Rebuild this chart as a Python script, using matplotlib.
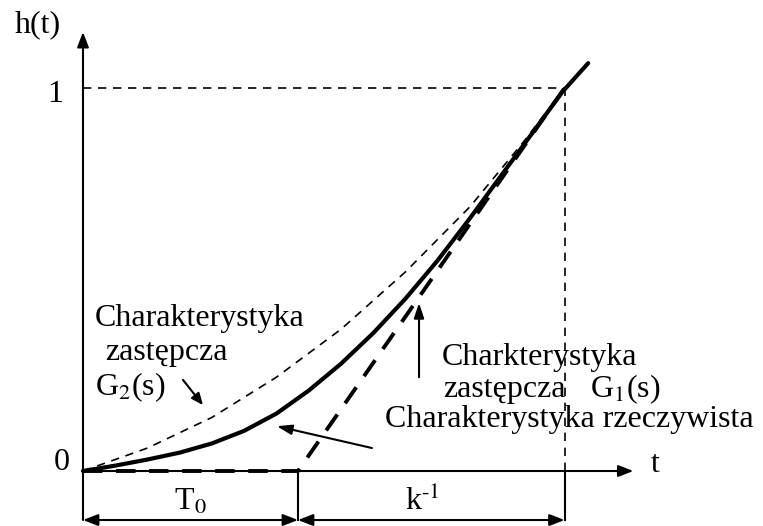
import numpy as np
import matplotlib
matplotlib.use("Agg")
import matplotlib.pyplot as plt

plt.rcParams['font.family'] = ['Liberation Serif', 'DejaVu Serif']
plt.rcParams['mathtext.fontset'] = 'stix'

# dane (t w jednostkach T0, h znormalizowane)
T0 = 1.0
k_inv = 1.24

t_real = [0, 0.15, 0.3, 0.45, 0.6, 0.75, 0.9, 1.05, 1.2, 1.35, 1.5, 1.65, 1.8, 1.95, 2.1, 2.23, 2.35]
h_real = [0, 0.014, 0.03, 0.048, 0.072, 0.105, 0.15, 0.21, 0.28, 0.36, 0.45, 0.55, 0.66, 0.775, 0.89, 0.99, 1.065]

t_g2 = [0, 0.3, 0.6, 0.9, 1.2, 1.5, 1.8, 2.05, 2.24]
h_g2 = [0, 0.06, 0.14, 0.245, 0.37, 0.52, 0.69, 0.86, 1.0]

ramp_t = [0, T0, T0 + k_inv]
ramp_h = [0, 0, 1.0]

fig = plt.figure(figsize=(7.63, 5.26), dpi=100)
ax = fig.add_axes([0, 0, 1, 1])
ax.set_xlim(-0.386, 3.163)
ax.set_ylim(-0.1436, 1.2298)
ax.axis('off')

fs = 23
y_dim = -0.128
t_end = T0 + k_inv
arr = dict(lw=1.5, color='black', shrinkA=0, shrinkB=0)

# osie
ax.annotate('', xy=(0, 1.146), xytext=(0, y_dim),
            arrowprops=dict(arrowstyle='-|>,head_length=0.9,head_width=0.35', **arr))
ax.annotate('', xy=(2.56, 0), xytext=(0, 0),
            arrowprops=dict(arrowstyle='-|>,head_length=0.9,head_width=0.35', **arr))

# linie pomocnicze
ax.plot([0, t_end], [1, 1], color='black', lw=1.2, ls=(0, (5, 4)))
ax.plot([t_end, t_end], [0, 1], color='black', lw=1.2, ls=(0, (5, 4)))
ax.plot([T0, T0], [y_dim, 0], color='black', lw=1.5)
ax.plot([t_end, t_end], [y_dim, 0], color='black', lw=1.5)

# wymiary T0 i k^-1
for a, b in [(0, T0), (T0, t_end)]:
    ax.annotate('', xy=(b, y_dim), xytext=(a, y_dim),
                arrowprops=dict(arrowstyle='<|-|>,head_length=0.9,head_width=0.35', **arr))

# charakterystyki
ax.plot(t_g2, h_g2, color='black', lw=1.2, ls=(0, (5, 4)))
ax.plot(ramp_t, ramp_h, color='black', lw=2.8, ls=(0, (5, 3.5)))
ax.plot(t_real, h_real, color='black', lw=3, solid_capstyle='round')

# opisy
ax.text(-0.209, 1.146, 'h(t)', fontsize=fs, ha='center', va='baseline')
ax.text(-0.13, 0.982, '1', fontsize=fs, ha='center', va='center')
ax.text(-0.098, 0.021, '0', fontsize=fs, ha='center', va='center')
ax.text(2.66, 0.016, 't', fontsize=fs, ha='center', va='center')
ax.text(0.5, -0.102, r'T$_0$', fontsize=fs, ha='center', va='baseline')
ax.text(1.577, -0.102, r'k$^{\text{-1}}$', fontsize=fs, ha='center', va='baseline')

ax.text(0.056, 0.379, 'Charakterystyka', fontsize=fs, ha='left', va='baseline')
ax.text(0.102, 0.29, 'zastępcza', fontsize=fs, ha='left', va='baseline')
ax.text(0.056, 0.198, r'G$_2$(s)', fontsize=fs, ha='left', va='baseline')
ax.annotate('', xy=(0.558, 0.172), xytext=(0.465, 0.238),
            arrowprops=dict(arrowstyle='-|>,head_length=0.7,head_width=0.3', **arr))

ax.text(1.67, 0.277, 'Charkterystyka', fontsize=fs, ha='left', va='baseline')
ax.text(1.674, 0.193, 'zastępcza', fontsize=fs, ha='left', va='baseline')
ax.text(2.358, 0.193, r'G$_1$(s)', fontsize=fs, ha='left', va='baseline')
ax.annotate('', xy=(1.563, 0.439), xytext=(1.563, 0.245),
            arrowprops=dict(arrowstyle='-|>,head_length=0.9,head_width=0.3', **arr))

ax.text(1.405, 0.115, 'Charakterystyka rzeczywista', fontsize=fs, ha='left', va='baseline')
ax.annotate('', xy=(0.902, 0.117), xytext=(1.344, 0.06),
            arrowprops=dict(arrowstyle='-|>,head_length=0.9,head_width=0.3', **arr))

fig.savefig('out.png', dpi=100)
